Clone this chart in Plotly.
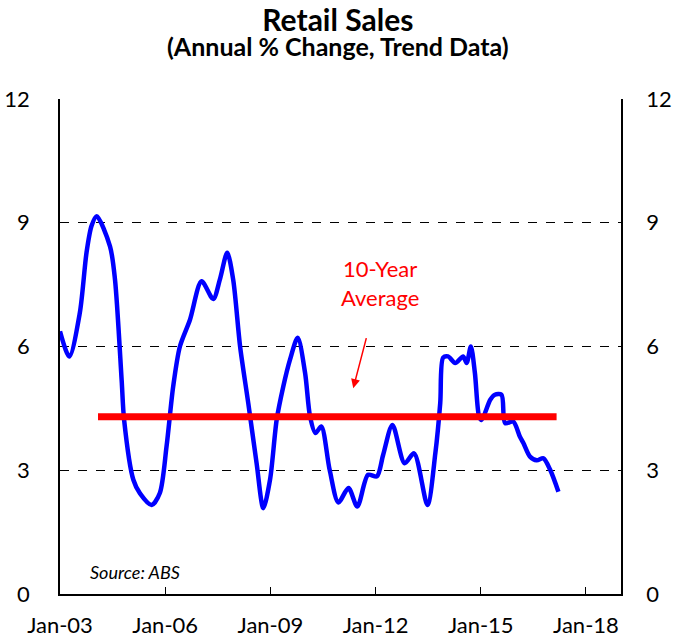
import plotly.graph_objects as go

# ---- data ----
sales_dates = [
    "2003-01-01", "2003-04-08", "2003-07-26", "2003-10-04", "2003-11-25", "2004-01-18",
    "2004-06-05", "2004-07-27", "2004-10-04", "2004-10-30", "2005-02-03", "2005-04-13",
    "2005-08-13", "2005-11-06", "2006-01-15", "2006-03-25", "2006-06-03", "2006-09-16",
    "2007-01-15", "2007-05-16", "2007-07-24", "2007-10-09", "2007-12-10", "2008-02-20",
    "2008-05-15", "2008-08-10", "2008-10-19", "2008-12-28", "2009-03-07", "2009-05-15",
    "2009-07-24", "2009-10-12", "2009-12-28", "2010-02-18", "2010-04-15", "2010-06-15",
    "2010-09-10", "2010-12-10", "2011-03-25", "2011-06-25", "2011-10-15", "2012-01-15",
    "2012-03-20", "2012-06-25", "2012-10-30", "2013-02-05", "2013-06-25", "2013-09-15",
    "2013-11-05", "2013-12-05", "2014-01-25", "2014-04-10", "2014-07-01", "2014-08-07",
    "2014-09-20", "2014-11-01", "2014-12-15", "2015-01-10", "2015-04-10", "2015-05-28",
    "2015-08-05", "2015-09-12", "2015-12-05", "2016-02-12", "2016-03-20", "2016-05-28",
    "2016-08-06", "2016-10-15", "2016-12-24", "2017-03-20",
]
sales_values = [
    6.37, 5.76, 6.81, 8.27, 8.92, 9.16,
    8.43, 7.62, 5.19, 4.22, 2.77, 2.44,
    2.16, 2.45, 3.58, 5.03, 6.00, 6.65,
    7.58, 7.15, 7.62, 8.27, 7.62, 6.00,
    4.63, 3.17, 2.08, 2.77, 4.22, 5.03,
    5.68, 6.21, 5.36, 4.30, 3.90, 4.06,
    3.01, 2.22, 2.57, 2.12, 2.89, 2.85,
    3.37, 4.10, 3.17, 3.41, 2.16, 3.41,
    4.63, 5.73, 5.76, 5.60, 5.76, 5.60,
    6.00, 5.36, 4.30, 4.22, 4.71, 4.83,
    4.83, 4.14, 4.18, 3.82, 3.66, 3.33,
    3.24, 3.29, 3.01, 2.48,
]
avg_dates = ["2004-02-01", "2017-03-01"]
avg_values = [4.3, 4.3]

tick_dates = ["2003-01-01", "2006-01-01", "2009-01-01", "2012-01-01", "2015-01-01", "2018-01-01"]
tick_labels = ["Jan-03", "Jan-06", "Jan-09", "Jan-12", "Jan-15", "Jan-18"]
y_ticks = [0, 3, 6, 9, 12]

FONT = "Lato"

fig = go.Figure()
fig.add_trace(go.Scatter(
    x=sales_dates, y=sales_values, mode="lines",
    line=dict(color="#0000FF", width=4.5, shape="spline", smoothing=0.8),
    showlegend=False, hoverinfo="skip",
))
fig.add_trace(go.Scatter(
    x=avg_dates, y=avg_values, mode="lines",
    line=dict(color="#FF0000", width=7),
    showlegend=False, hoverinfo="skip",
))
# invisible trace for right axis
fig.add_trace(go.Scatter(
    x=avg_dates, y=avg_values, yaxis="y2", mode="lines",
    line=dict(color="rgba(0,0,0,0)", width=0), showlegend=False, hoverinfo="skip",
))

fig.update_layout(
    width=673, height=638,
    margin=dict(l=60, r=52, t=99, b=44, autoexpand=False),
    paper_bgcolor="white", plot_bgcolor="white",
    font=dict(family=FONT, color="black"),
    xaxis=dict(
        type="date", range=["2003-01-01", "2019-01-01"],
        tickvals=tick_dates, ticktext=tick_labels,
        ticks="inside", ticklen=7, tickcolor="black", tickwidth=1,
        showline=True, linecolor="black", linewidth=1.5,
        showgrid=False, zeroline=False, automargin=False,
        tickfont=dict(size=22, family=FONT),
        ticklabelstandoff=11,
    ),
    yaxis=dict(
        range=[0, 12], tickvals=y_ticks,
        showline=True, linecolor="black", linewidth=1.5,
        showgrid=True, gridcolor="black", gridwidth=1, griddash="dash",
        zeroline=False, ticks="", automargin=False,
        tickfont=dict(size=22, family=FONT),
        ticklabelstandoff=24,
    ),
    yaxis2=dict(
        range=[0, 12], tickvals=y_ticks, overlaying="y", side="right",
        showline=True, linecolor="black", linewidth=1.5,
        showgrid=False, zeroline=False, ticks="", automargin=False,
        tickfont=dict(size=22, family=FONT),
        ticklabelstandoff=19,
    ),
)

fig.add_annotation(
    text=("<b><span style='font-size:30px'>Retail Sales</span><br>"
          "<span style='font-size:25px'>(Annual % Change, Trend Data)</span></b>"),
    xref="paper", yref="paper", x=0.495, y=1.138,
    xanchor="center", yanchor="middle", showarrow=False,
    font=dict(size=19, family=FONT, color="black"),
)
fig.add_annotation(
    text="10-Year<br>Average", x="2012-02-17", y=7.55, xref="x", yref="y",
    showarrow=False, xanchor="center", yanchor="middle",
    font=dict(size=22, family=FONT, color="#FF0000"),
)
fig.add_annotation(
    x="2011-05-14", y=4.99, ax="2011-10-01", ay=6.24, xref="x", yref="y",
    axref="x", ayref="y", text="", showarrow=True,
    arrowhead=2, arrowsize=1.2, arrowwidth=1.5, arrowcolor="#FF0000",
)
fig.add_annotation(
    text="<i>Source: ABS</i>", xref="paper", yref="y", x=0.05, y=0.53,
    xanchor="left", yanchor="middle", showarrow=False,
    font=dict(size=18, family=FONT, color="black"),
)

fig.write_html(
    "out.html",
    config={"displayModeBar": False},
    post_script="document.body.style.margin='0';document.body.style.overflow='hidden';",
)
